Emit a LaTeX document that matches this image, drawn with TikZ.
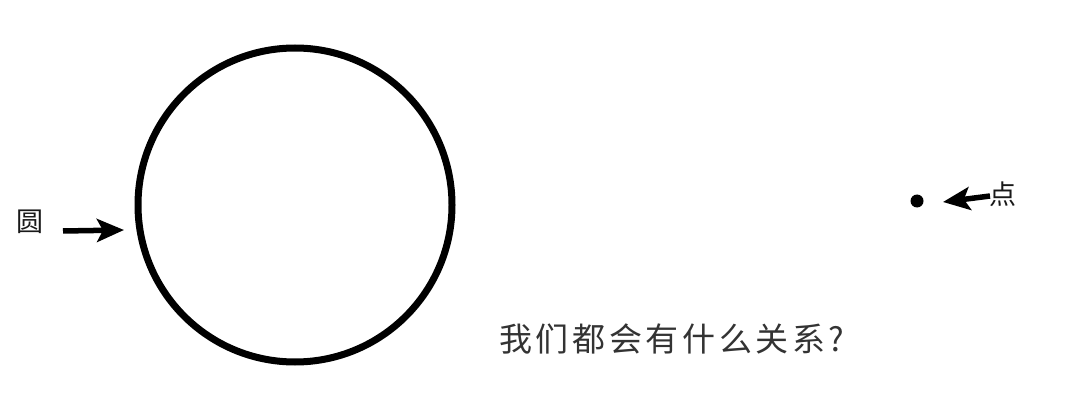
\documentclass[tikz,border=0pt]{standalone}
\usepackage{fontspec}
\newfontfamily\cjk{Noto Sans CJK SC}
\newfontfamily\cjksp[LetterSpace=11]{Noto Sans CJK SC}
\usetikzlibrary{arrows.meta}
\begin{document}
\begin{tikzpicture}[x=1pt,y=1pt,
  lbl/.style={font=\cjk\fontsize{27}{30}\selectfont, inner sep=0pt, text=black!90},
  pointer/.style={line width=5.5pt, -{Stealth[length=27pt,width=23pt,inset=6pt]}}]
\useasboundingbox (0,0) rectangle (1066,405);
\fill[white] (0,0) rectangle (1066,405);
\node[circle, draw, line width=7pt, minimum size=314pt, inner sep=0pt] (circ) at (295,200) {};
\node[lbl] (yuan) at (30,183) {圆};
\coordinate (ltail) at (63,174);
\coordinate (ltip) at (124,175);
\draw[pointer] (ltail) -- (ltip);
\node[circle, fill, minimum size=13pt, inner sep=0pt] (pt) at (917,204) {};
\node[lbl] (dian) at (1003,211) {点};
\coordinate (rtail) at (990,209);
\coordinate (rtip) at (943,203);
\draw[pointer] (rtail) -- (rtip);
\node[font=\cjksp\fontsize{33}{36}\selectfont, inner sep=0pt, text=black!80] (q) at (672,66) {我们都会有什么关系?};
\end{tikzpicture}
\end{document}
